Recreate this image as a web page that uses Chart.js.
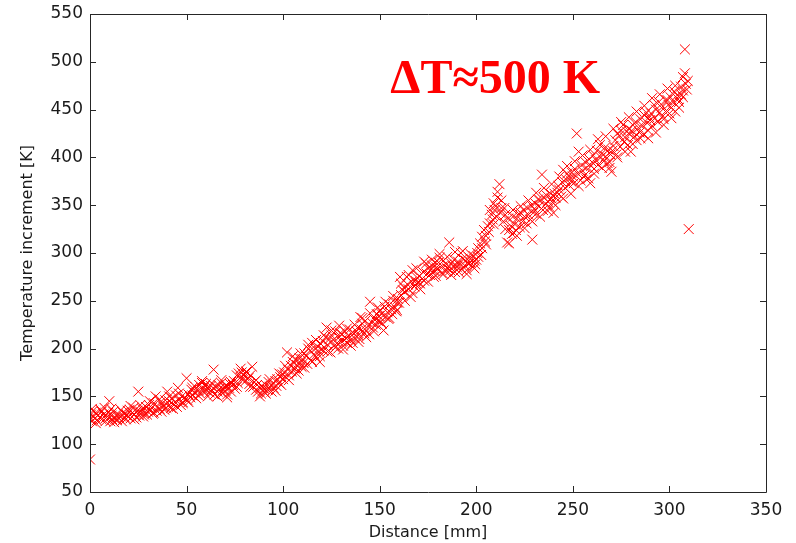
<!DOCTYPE html>
<html>
<head>
<meta charset="utf-8">
<title>Temperature increment vs distance</title>
<script src="https://cdn.jsdelivr.net/npm/chart.js@4/dist/chart.umd.min.js"></script>
<style>
    html, body { margin: 0; padding: 0; background: #fff; }
    #wrap { width: 796px; height: 543px; }
</style>
</head>
<body>
<div id="wrap"><canvas id="chart" width="796" height="543"></canvas></div>
<script>
'use strict';

// Distance along the sample [mm]
const distance = [
    0, 0, 0.5, 1, 1.5, 2, 2.5, 3, 3.5, 4, 5, 5.5, 6, 7, 7.5, 8, 9, 9.5,
    10, 10.5, 11, 11.5, 12, 12.5, 13, 14, 14.5, 15, 16, 16.5, 17, 18, 18.5, 19, 19.5,
    20, 20.5, 21, 22, 22.5, 23, 24, 24.5, 25, 25.5, 26, 27, 27.5, 28, 29, 29.5,
    30, 30.5, 31, 32, 32.5, 33, 34, 34.5, 35, 36, 36.5, 37, 38, 38.5, 39, 39.5,
    40, 40.5, 41, 42, 42.5, 43, 44, 44.5, 45, 45.5, 46, 47, 47.5, 48, 49, 49.5,
    50, 50.5, 51, 52, 52.5, 53, 54, 54.5, 55, 56, 56.5, 57, 58, 58.5, 59, 59.5,
    60, 60.5, 61, 62, 62.5, 63, 64, 64.5, 65, 66, 66.5, 67, 68, 68.5, 69, 69.5,
    70, 70.5, 71, 72, 72.5, 73, 74, 74.5, 75, 76, 76.5, 77, 78, 78.5, 79, 79.5,
    80, 80.5, 81, 82, 82.5, 83, 84, 84.5, 85, 86, 86.5, 87, 88, 88.5, 89, 89.5,
    90, 90.5, 91, 92, 92.5, 93, 94, 94.5, 95, 96, 96.5, 97, 98, 98.5, 99, 99.5,
    100, 100.5, 101, 102, 102.5, 103, 104, 104.5, 105, 106, 106.5, 107, 108, 108.5, 109, 109.5,
    110, 110.5, 111, 112, 112.5, 113, 114, 114.5, 115, 116, 116.5, 117, 118, 118.5, 119, 119.5,
    120, 120.5, 121, 122, 122.5, 123, 124, 124.5, 125, 126, 126.5, 127, 128, 128.5, 129, 129.5,
    130, 130.5, 131, 132, 132.5, 133, 134, 134.5, 135, 136, 136.5, 137, 138, 138.5, 139, 139.5,
    140, 140.5, 141, 142, 142.5, 143, 144, 144.5, 145, 146, 146.5, 147, 148, 148.5, 149, 149.5,
    150, 150.5, 151, 152, 152.5, 153, 154, 154.5, 155, 156, 156.5, 157, 158, 158.5, 159, 159.5,
    160, 160.5, 161, 162, 162.5, 163, 164, 164.5, 165, 166, 166.5, 167, 168, 168.5, 169, 169.5,
    170, 170.5, 171, 172, 172.5, 173, 174, 174.5, 175, 176, 176.5, 177, 178, 178.5, 179, 179.5,
    180, 180.5, 181, 182, 182.5, 183, 184, 184.5, 185, 186, 186.5, 187, 188, 188.5, 189, 189.5,
    190, 190.5, 191, 192, 192.5, 193, 194, 194.5, 195, 196, 196.5, 197, 198, 198.5, 199, 199.5,
    200, 200.5, 201, 202, 202.5, 203, 204, 204.5, 205, 206, 206.5, 207, 208, 208.5, 209, 209.5,
    210, 210.5, 211, 212, 212.5, 213, 214, 214.5, 215, 216, 216.5, 217, 218, 218.5, 219, 219.5,
    220, 220.5, 221, 222, 222.5, 223, 224, 224.5, 225, 226, 226.5, 227, 228, 228.5, 229, 229.5,
    230, 230.5, 231, 232, 232.5, 233, 234, 234.5, 235, 236, 236.5, 237, 238, 238.5, 239, 239.5,
    240, 240.5, 241, 242, 242.5, 243, 244, 244.5, 245, 246, 246.5, 247, 248, 248.5, 249, 249.5,
    250, 250.5, 251, 252, 252.5, 253, 254, 254.5, 255, 256, 256.5, 257, 258, 258.5, 259, 259.5,
    260, 260.5, 261, 262, 262.5, 263, 264, 264.5, 265, 266, 266.5, 267, 268, 268.5, 269, 269.5,
    270, 270.5, 271, 272, 272.5, 273, 274, 274.5, 275, 276, 276.5, 277, 278, 278.5, 279, 279.5,
    280, 280.5, 281, 282, 282.5, 283, 284, 284.5, 285, 286, 286.5, 287, 288, 288.5, 289, 289.5,
    290, 290.5, 291, 292, 292.5, 293, 294, 294.5, 295, 296, 296.5, 297, 298, 298.5, 299, 299.5,
    300, 300.5, 301, 302, 302.5, 303, 304, 304.5, 305, 306, 306, 307, 307, 308, 308, 308.5, 309, 309.5, 310,
    // second pass over the band: upper and lower edges of the cloud
    1, 3, 6, 8, 11, 13, 16, 19, 21, 23, 26, 28, 31, 33, 36, 38, 41, 43, 46, 48,
    51, 53, 56, 58, 61, 63, 66, 68, 71, 73, 76, 78, 81, 83, 86, 88, 91, 93, 96, 98,
    101, 103, 105, 107, 109, 111, 113, 115, 117, 119, 121, 123, 125, 127, 129,
    131, 133, 135, 137, 139, 141, 143, 145, 147, 149,
    151, 153, 155, 157, 159, 161, 163, 165, 167, 169, 171, 173, 175, 177, 179,
    181, 183, 185, 187, 189, 191, 193, 195, 197, 199,
    201, 203, 205, 207, 209, 211, 213, 215, 217, 219, 221, 223, 225, 227, 229,
    231, 233, 235, 237, 239, 241, 243, 245, 247, 249,
    251, 253, 255, 257, 259, 261, 263, 265, 267, 269, 271, 273, 275, 277, 279,
    281, 283, 285, 287, 289, 291, 293, 295, 297, 299, 301, 303, 305, 307
];

// Temperature increment [K], same order as distance
const temperature = [
    84, 126, 131, 124, 135, 129, 127, 133, 125, 130, 128, 136, 126, 131, 138, 127, 129, 133,
    145, 124, 130, 126, 134, 123, 128, 125, 131, 127, 129, 124, 133, 128, 126, 131, 135,
    129, 136, 127, 133, 138, 131, 128, 135, 155, 130, 134, 137, 129, 133, 139, 131,
    134, 141, 136, 138, 132, 143, 150, 135, 139, 137, 144, 134, 140, 136, 146, 138,
    155, 140, 145, 138, 148, 142, 144, 151, 139, 159, 146, 141, 150, 144, 149, 147,
    169, 146, 152, 149, 157, 151, 154, 160, 148, 156, 162, 153, 164, 158, 155, 161,
    163, 156, 159, 154, 161, 157, 178, 152, 160, 155, 162, 158, 164, 153, 157, 160,
    156, 161, 152, 159, 163, 155, 162, 166, 158, 172, 164, 174, 170, 175, 167, 173,
    171, 166, 176, 169, 163, 172, 181, 160, 165, 157, 162, 155, 159, 153, 161, 156,
    158, 154, 162, 157, 165, 160, 155, 163, 159, 166, 161, 168, 164, 170, 162, 173,
    168, 175, 171, 196, 178, 172, 182, 176, 186, 179, 188, 183, 177, 190, 185, 181,
    189, 185, 195, 192, 184, 204, 198, 188, 206, 194, 200, 191, 202, 197, 186, 205,
    199, 208, 198, 212, 222, 204, 210, 196, 214, 209, 203, 218, 206, 200, 212, 216,
    208, 215, 203, 218, 211, 206, 213, 220, 209, 206, 216, 211, 218, 222, 214, 210,
    233, 220, 226, 216, 229, 219, 224, 215, 249, 227, 222, 231, 225, 236, 229, 234,
    240, 228, 236, 219, 244, 233, 238, 231, 246, 241, 236, 250, 243, 239, 248, 252,
    248, 275, 256, 261, 264, 259, 275, 267, 262, 254, 270, 282, 265, 271, 268, 274,
    269, 276, 268, 273, 280, 271, 289, 278, 284, 277, 283, 287, 275, 281, 290, 285,
    283, 290, 295, 279, 286, 292, 281, 288, 284, 311, 282, 289, 286, 293, 280, 287,
    285, 291, 288, 300, 283, 294, 287, 292, 282, 289, 295, 290, 286, 297, 292, 288,
    293, 300, 296, 310, 298, 305, 324, 312, 318, 328, 322, 331, 340, 335, 352, 345,
    349, 338, 358, 372, 342, 355, 333, 347, 325, 311, 336, 310, 328, 320, 338, 321,
    330, 324, 336, 341, 327, 342, 333, 345, 338, 331, 347, 340, 335, 350, 314, 342,
    346, 352, 341, 356, 349, 355, 382, 345, 358, 351, 360, 354, 348, 362, 357, 353,
    342, 362, 358, 363, 370, 366, 359, 374, 387, 368, 377, 383, 371, 379, 375, 384,
    380, 373, 388, 425, 383, 406, 376, 392, 386, 381, 395, 389, 378, 398, 373, 391,
    395, 402, 388, 397, 407, 392, 413, 400, 404, 396, 410, 401, 394, 408, 389, 403,
    385, 407, 412, 418, 403, 425, 423, 411, 428, 434, 416, 421, 427, 413, 430, 424,
    406, 428, 434, 422, 437, 418, 431, 426, 440, 433, 424, 444, 447, 436, 420, 442,
    439, 446, 433, 455, 441, 450, 437, 458, 447, 452, 443, 434, 460, 449, 472, 455,
    446, 463, 452, 458, 469, 448, 465, 461, 458, 466, 474, 463, 484, 488, 513, 477, 471, 480, 325,
    137, 122, 134, 124, 137, 126, 136, 130, 140, 126, 141, 131, 145, 133, 147, 139, 150, 137, 153, 143,
    144, 159, 151, 166, 150, 164, 150, 167, 149, 165, 160, 179, 175, 160, 167, 150, 153, 168, 156, 174,
    182, 167, 192, 174, 195, 180, 200, 186, 209, 192, 214, 197, 219, 201, 224,
    199, 221, 203, 225, 207, 232, 212, 237, 218, 243,
    226, 249, 232, 255, 240, 268, 250, 277, 258, 284, 262, 291, 270, 293, 276,
    299, 278, 296, 277, 301, 280, 302, 278, 299, 284,
    305, 317, 309, 345, 330, 364, 347, 340, 324, 345, 318, 349, 326, 355, 333,
    363, 338, 368, 344, 372, 350, 380, 357, 391, 362,
    396, 370, 402, 377, 408, 383, 419, 389, 422, 395, 430, 400, 437, 406, 442,
    414, 448, 420, 454, 428, 462, 426, 466, 440, 460, 441, 475, 452, 470
];

const xTicks = [0, 50, 100, 150, 200, 250, 300, 350];
const yTicks = [50, 100, 150, 200, 250, 300, 350, 400, 450, 500, 550];

const annotationText = '\u0394T\u2248500 K';
const annotationAt = [155.5, 467]; // [distance, temperature] of the text baseline start

const points = distance.map((d, i) => ({ x: d, y: temperature[i] }));

// MATLAB-like box with ticks pointing inwards on all four sides
const boxTicks = {
    id: 'boxTicks',
    afterDraw(chart) {
        const { ctx, chartArea: a, scales: { x, y } } = chart;
        const len = 6;
        ctx.save();
        ctx.strokeStyle = '#262626';
        ctx.lineWidth = 1;
        ctx.beginPath();
        ctx.rect(Math.round(a.left) + 0.5, Math.round(a.top) + 0.5,
            Math.round(a.right - a.left), Math.round(a.bottom - a.top));
        x.ticks.forEach(t => {
            const px = Math.round(x.getPixelForValue(t.value)) + 0.5;
            ctx.moveTo(px, a.bottom); ctx.lineTo(px, a.bottom - len);
            ctx.moveTo(px, a.top); ctx.lineTo(px, a.top + len);
        });
        y.ticks.forEach(t => {
            const py = Math.round(y.getPixelForValue(t.value)) + 0.5;
            ctx.moveTo(a.left, py); ctx.lineTo(a.left + len, py);
            ctx.moveTo(a.right, py); ctx.lineTo(a.right - len, py);
        });
        ctx.stroke();
        ctx.restore();
    }
};

const annotation = {
    id: 'annotation',
    afterDatasetsDraw(chart) {
        const { ctx, scales: { x, y } } = chart;
        ctx.save();
        ctx.font = 'bold 48px "Liberation Serif", "Times New Roman", serif';
        ctx.fillStyle = '#ff0000';
        ctx.textAlign = 'left';
        ctx.textBaseline = 'alphabetic';
        ctx.fillText(annotationText, x.getPixelForValue(annotationAt[0]), y.getPixelForValue(annotationAt[1]));
        ctx.restore();
    }
};

const tickFont = { family: '"DejaVu Sans", sans-serif', size: 17 };
const titleFont = { family: '"DejaVu Sans", sans-serif', size: 16 };

new Chart(document.getElementById('chart'), {
    type: 'scatter',
    data: {
        datasets: [{
            label: 'Temperature increment',
            data: points,
            pointStyle: 'crossRot',
            radius: 7,
            hoverRadius: 7,
            borderColor: '#ff0000',
            backgroundColor: '#ff0000',
            borderWidth: 1
        }]
    },
    options: {
        responsive: false,
        devicePixelRatio: 1,
        animation: false,
        layout: { padding: { top: 14, right: 30, left: 0, bottom: 0 } },
        plugins: {
            legend: { display: false },
            tooltip: { enabled: false }
        },
        scales: {
            x: {
                type: 'linear',
                min: xTicks[0],
                max: xTicks[xTicks.length - 1],
                afterBuildTicks: scale => { scale.ticks = xTicks.map(v => ({ value: v })); },
                afterFit: scale => { scale.height = 51; },
                grid: { display: false, drawTicks: false },
                border: { display: false },
                ticks: { color: '#1a1a1a', font: tickFont, padding: 8, maxRotation: 0 },
                title: { display: true, text: 'Distance [mm]', color: '#1a1a1a', font: titleFont, padding: { top: 0, bottom: 1 } }
            },
            y: {
                type: 'linear',
                min: yTicks[0],
                max: yTicks[yTicks.length - 1],
                afterBuildTicks: scale => { scale.ticks = yTicks.map(v => ({ value: v })); },
                afterFit: scale => {
                    scale.width = 90;
                    scale.paddingTop = 0;
                    scale.paddingBottom = 0;
                },
                grid: { display: false, drawTicks: false },
                border: { display: false },
                ticks: { color: '#1a1a1a', font: tickFont, padding: 7 },
                title: { display: true, text: 'Temperature increment [K]', color: '#1a1a1a', font: titleFont, padding: { top: 18, bottom: 0 } }
            }
        }
    },
    plugins: [boxTicks, annotation]
});
</script>
</body>
</html>
